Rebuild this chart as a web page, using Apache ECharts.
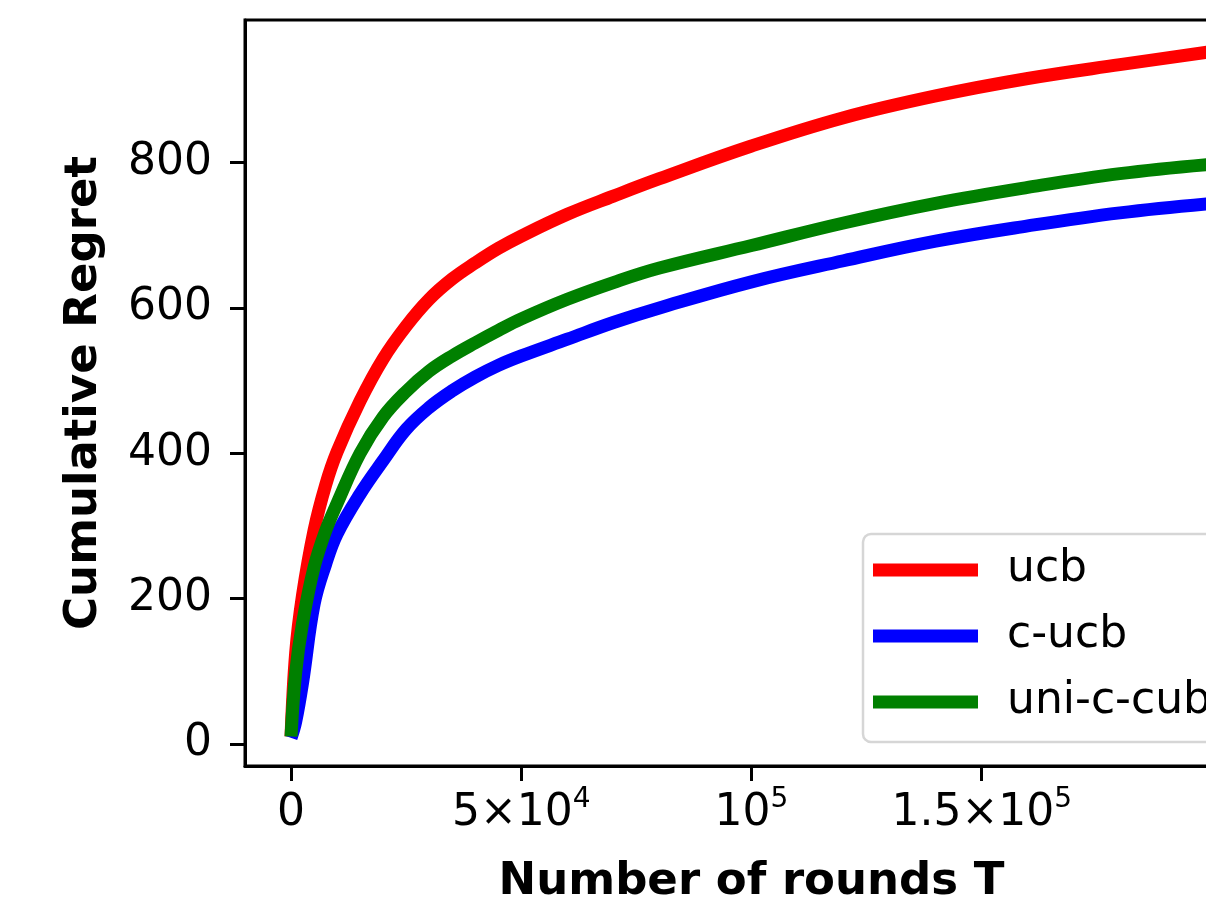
<!DOCTYPE html>
<html>
<head>
<meta charset="utf-8">
<script src="https://cdn.jsdelivr.net/npm/echarts@6/dist/echarts.min.js"></script>
<style>
  html, body { margin: 0; padding: 0; background: #fff; }
  #chart { width: 1206px; height: 906px; }
</style>
</head>
<body>
<div id="chart"></div>
<script>
// Rounds T (x values)
const rounds = [0, 1000, 2500, 5000, 7500, 10000, 15000, 20000, 25000, 30000, 35000, 40000, 45000, 50000, 60000, 70000, 80000, 100000, 120000, 140000, 160000, 180000, 200000];
// Cumulative regret per algorithm
const ucb     = [10, 125, 205, 294, 356, 402, 472, 530, 575, 612, 640, 662, 682, 699, 729, 754, 778, 823, 862, 892, 916, 935, 953];
const cUcb    = [8, 30, 84, 192, 247, 289, 344, 390, 433, 463, 486, 505, 521, 534, 557, 580, 600, 636, 665, 692, 713, 731, 744];
const uniCCub = [10, 98, 166, 243, 293, 331, 400, 450, 485, 513, 534, 552, 569, 585, 612, 635, 655, 686, 717, 744, 766, 785, 798];

const seriesNames = ['ucb', 'c-ucb', 'uni-c-cub'];
const seriesColors = ['#ff0000', '#0000ff', '#008000'];

// Tick positions and labels (mantissa / power-of-ten exponent)
const xTicks = [0, 50000, 100000, 150000];
const xTickBase = ['0', '5×10', '10', '1.5×10'];
const xTickExp = ['', '4', '5', '5'];
const yTicks = [0, 200, 400, 600, 800];
const yTickLabels = ['0', '200', '400', '600', '800'];

const font = 'DejaVu Sans';
const chart = echarts.init(document.getElementById('chart'), null, { renderer: 'canvas' });

function pairs(vals) { return rounds.map((t, i) => [t, vals[i]]); }
const allVals = [ucb, cUcb, uniCCub];

chart.setOption({
  animation: false,
  backgroundColor: '#ffffff',
  grid: {
    left: 245, top: 20, width: 1013, height: 746,
    show: true, borderColor: '#000', borderWidth: 3, backgroundColor: 'transparent',
    containLabel: false,
    outerBoundsMode: 'none'
  },
  legend: {
    orient: 'vertical',
    left: 863, top: 534,
    padding: [14, 40, 18, 10],
    itemGap: 22,
    itemWidth: 105,
    itemHeight: 13,
    icon: 'rect',
    backgroundColor: '#ffffff',
    borderColor: '#d6d6d6',
    borderWidth: 2.5,
    borderRadius: 8,
    textStyle: { fontFamily: font, fontSize: 44, color: '#000', padding: [0, 0, 0, 24], lineHeight: 44 },
    data: seriesNames
  },
  xAxis: {
    type: 'value',
    min: -10000, max: 210000,
    name: 'Number of rounds T',
    nameLocation: 'middle',
    nameGap: 94,
    nameTextStyle: { fontFamily: font, fontSize: 45, fontWeight: 'bold', color: '#000' },
    axisLine: { show: true, onZero: false, lineStyle: { color: '#000', width: 3 } },
    axisTick: { show: true, inside: false, length: 15, lineStyle: { color: '#000', width: 3 }, customValues: xTicks },
    axisLabel: {
      show: true, margin: 20, fontFamily: font, fontSize: 44, color: '#000', lineHeight: 56,
      customValues: xTicks,
      formatter: v => {
        const i = xTicks.indexOf(v);
        if (i < 0) return '';
        return xTickExp[i] ? xTickBase[i] + '{sup|' + xTickExp[i] + '}' : xTickBase[i];
      },
      rich: {
        sup: { fontFamily: font, fontSize: 28, lineHeight: 30, color: '#000', verticalAlign: 'top' }
      }
    },
    splitLine: { show: false }
  },
  yAxis: {
    type: 'value',
    min: -30.6, max: 996.5,
    name: 'Cumulative Regret',
    nameLocation: 'middle',
    nameGap: 138,
    nameRotate: 90,
    nameTextStyle: { fontFamily: font, fontSize: 45, fontWeight: 'bold', color: '#000' },
    axisLine: { show: true, onZero: false, lineStyle: { color: '#000', width: 3 } },
    axisTick: { show: true, inside: false, length: 15, lineStyle: { color: '#000', width: 3 }, customValues: yTicks },
    axisLabel: {
      show: true, margin: 33, fontFamily: font, fontSize: 44, color: '#000',
      customValues: yTicks,
      formatter: v => { const i = yTicks.indexOf(v); return i >= 0 ? yTickLabels[i] : ''; }
    },
    splitLine: { show: false }
  },
  series: seriesNames.map((name, k) => ({
    name: name,
    type: 'line',
    data: pairs(allVals[k]),
    smooth: 0.4,
    showSymbol: false,
    symbol: 'none',
    color: seriesColors[k],
    lineStyle: { color: seriesColors[k], width: 13, cap: 'butt', join: 'round' },
    z: 2 + k
  }))
});
</script>
</body>
</html>
